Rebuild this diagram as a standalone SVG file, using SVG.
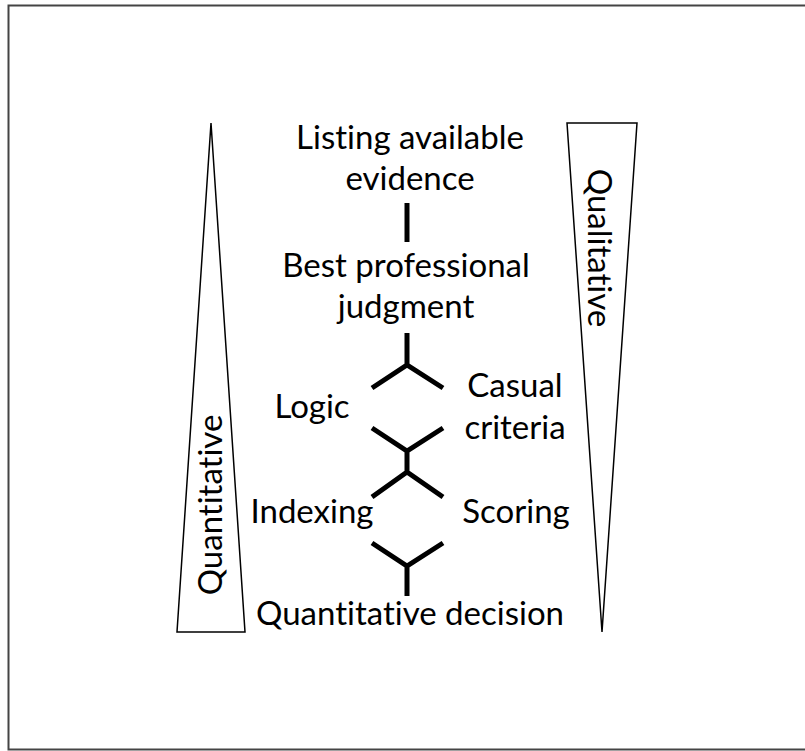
<svg xmlns="http://www.w3.org/2000/svg" width="805" height="751" viewBox="0 0 805 751">
<style>
.t{font-family:Lato,"Open Sans","Liberation Sans",sans-serif;font-size:33px;fill:#000;text-anchor:middle;font-variant-ligatures:none}
.tri{fill:#fff;stroke:#000;stroke-width:1.5}
.c{fill:none;stroke:#000;stroke-width:5;stroke-linecap:butt;stroke-linejoin:miter}
</style>
<rect width="805" height="751" fill="#fff"/>
<path d="M810,5.5 H8.5 V749.5 H810" fill="none" stroke="#444" stroke-width="2"/>
<g id="quantitative-wedge">
<polygon class="tri" points="211,123 245,632 177,632"/>
<text class="t" transform="translate(222,505) rotate(-90)">Quantitative</text>
</g>
<g id="qualitative-wedge">
<polygon class="tri" points="567,123 637,123 602,632"/>
<text class="t" transform="translate(588,248) rotate(90)">Qualitative</text>
</g>
<g id="listing"><text class="t" x="410" y="149">Listing available</text><text class="t" x="410" y="190">evidence</text></g>
<g id="bpj"><text class="t" x="406" y="277">Best professional</text><text class="t" x="406" y="318">judgment</text></g>
<g id="logic"><text class="t" x="312" y="418">Logic</text></g>
<g id="casual"><text class="t" x="515" y="397">Casual</text><text class="t" x="515" y="439">criteria</text></g>
<g id="indexing"><text class="t" x="312" y="523">Indexing</text></g>
<g id="scoring"><text class="t" x="516" y="523">Scoring</text></g>
<g id="decision"><text class="t" x="410" y="625">Quantitative decision</text></g>
<g id="connectors">
<path class="c" d="M407,203 V242"/>
<path class="c" d="M407,333 V365 M372,388 L407,365 L443,388"/>
<path class="c" d="M372,428 L407,451 L443,428 M407,451 V472 M372,497 L407,472 L443,497"/>
<path class="c" d="M372,543 L407,566 L443,543 M407,566 V596"/>
</g>
</svg>
